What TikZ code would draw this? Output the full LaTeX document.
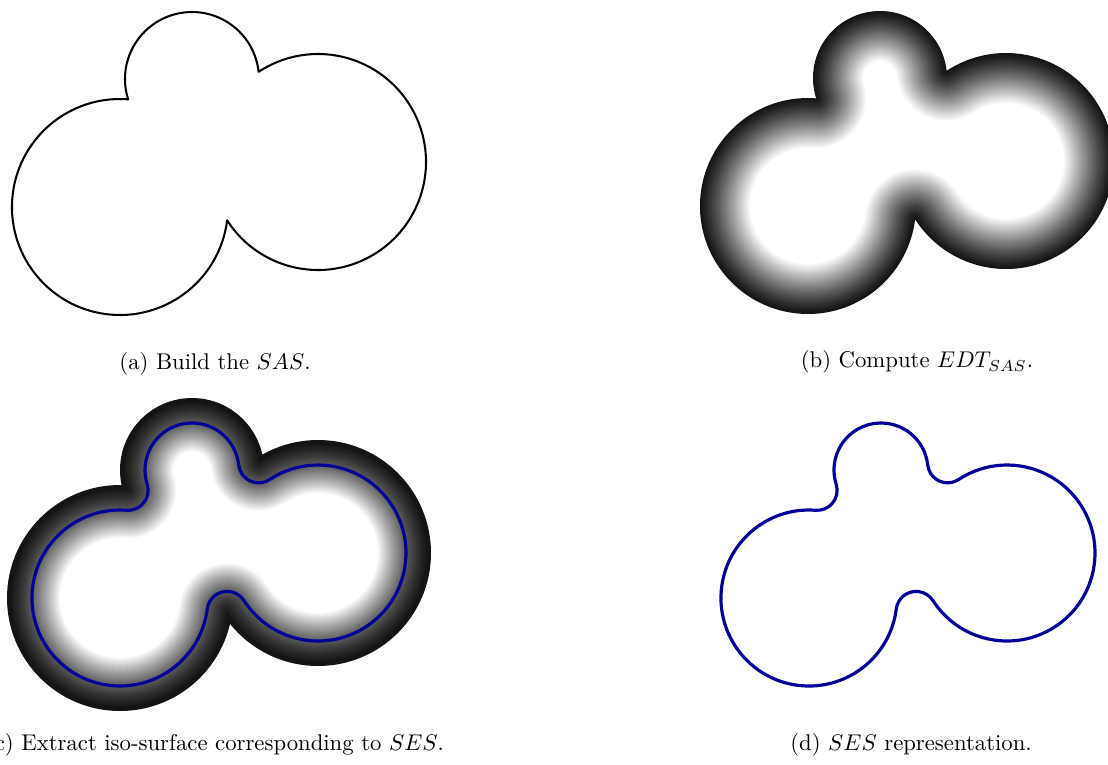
\documentclass[tikz,border=0pt]{standalone}
\usepackage{tikz}
\usetikzlibrary{calc}
\definecolor{sesBlue}{RGB}{0,0,150}

% outline of three fused atoms, pulled in by #2 (0 gives the SAS,
% the probe radius gives the SES); #1 is the right atom centre
\newcommand{\molpath}[2]{($(#1)+(-147.25:{108-#2})$)
  arc[start angle=-147.25, end angle=123.37, radius={108-#2}]
  arc[start angle=303.37, end angle=186.17, radius=#2]
  arc[start angle=6.17, end angle=197.65, radius={67-#2}]
  arc[start angle=17.65, end angle=-94.35, radius=#2]
  arc[start angle=85.65, end angle=352.87, radius={108-#2}]
  arc[start angle=172.87, end angle=32.75, radius=#2] -- cycle}

\begin{document}
\begin{tikzpicture}[x=0.44pt, y=0.44pt,
    sasline/.style={draw=black, line width=0.9pt, line join=round},
    sesline/.style={draw=sesBlue, line width=1.4pt, line join=round}]
  \useasboundingbox (0,0) rectangle (1108,764);
  % atom centres for each panel
  \foreach \p/\dx/\dy in {a/0/0, b/688/1, c/0/-391, d/689/-391} {
    \coordinate (L\p) at (120+\dx, 557+\dy);
    \coordinate (T\p) at (192+\dx, 685+\dy);
    \coordinate (R\p) at (318+\dx, 602+\dy);
  }

  % (a) SAS
  \draw[sasline] \molpath{Ra}{0};
  \node (capA) at (215,400) {(a) Build the $SAS$.};

  % (b) distance map, dark at the surface
  \foreach \d in {0,1,...,50} {
    \pgfmathsetmacro\lev{8+92*(\d/50)^1.2}
    \fill[white!\lev!black] \molpath{Rb}{\d};
  }
  \node (capB) at (917,402) {(b) Compute $EDT_{SAS}$.};

  % (c) distance map with the iso-line
  \fill[white!8!black] (Lc) circle[radius=113] (Tc) circle[radius=72] (Rc) circle[radius=113];
  \foreach \d in {0,1,...,48} {
    \pgfmathsetmacro\lev{8+92*((\d+5)/53)^1.5}
    \fill[white!\lev!black] \molpath{Rc}{\d};
  }
  \draw[sesline] \molpath{Rc}{20};
  \node[anchor=east] (capC) at (452,19) {(c) Extract iso-surface corresponding to $SES$.};

  % (d) SES
  \draw[sesline] \molpath{Rd}{20};
  \node (capD) at (911,19) {(d) $SES$ representation.};
\end{tikzpicture}
\end{document}
